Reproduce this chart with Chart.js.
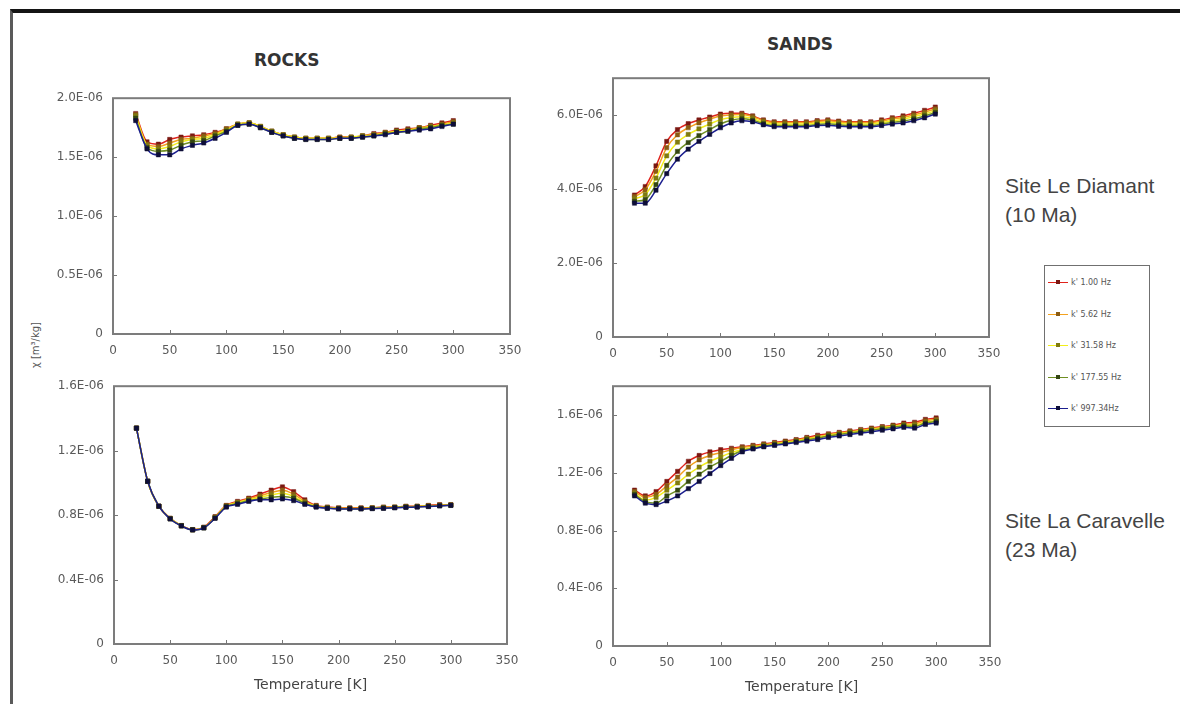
<!DOCTYPE html>
<html>
<head>
<meta charset="utf-8">
<script src="https://cdn.jsdelivr.net/npm/chart.js@4.4.1/dist/chart.umd.min.js"></script>
<style>
    body { margin: 0; background: #fff; width: 1180px; height: 704px; overflow: hidden; position: relative; font-family: "Liberation Sans", Arial, sans-serif; }
    #frame { position: absolute; left: 10px; top: 9px; right: 0; bottom: 0; border-top: 4px solid #141414; border-left: 3px solid #5a5a5a; }
    canvas { position: absolute; }
    .title { position: absolute; font-family: "DejaVu Sans", sans-serif; font-weight: bold; font-size: 17px; color: #333; }
    .site { position: absolute; font-size: 21px; line-height: 29px; color: #444; }
    #ytitle { position: absolute; left: 35px; top: 345px; transform: translate(-50%, -50%) rotate(-90deg); font-family: "DejaVu Sans", sans-serif; font-size: 10px; color: #555; white-space: nowrap; }
    #legend { position: absolute; left: 1044px; top: 265px; width: 104px; height: 160px; border: 1.5px solid #707070; }
    .row { position: absolute; left: 3px; height: 10px; font-family: "DejaVu Sans", sans-serif; font-size: 8px; color: #555; white-space: nowrap; }
    .row .ln { position: absolute; left: 0; top: 4px; width: 20px; height: 1px; }
    .row .pt { position: absolute; left: 8px; top: 2px; width: 4px; height: 4px; }
    .row .tx { position: absolute; left: 23px; top: 0; }
</style>
</head>
<body>
<div id="frame"></div>

<div class="title" style="left:254px; top:50px;">ROCKS</div>
<div class="title" style="left:767px; top:34px;">SANDS</div>
<div id="ytitle">χ [m³/kg]</div>

<div class="site" style="left:1005px; top:171px;">Site Le Diamant<br>(10 Ma)</div>
<div class="site" style="left:1005px; top:506px;">Site La Caravelle<br>(23 Ma)</div>

<div id="legend"></div>

<canvas id="rocksDiamant"></canvas>
<canvas id="sandsDiamant"></canvas>
<canvas id="rocksCaravelle"></canvas>
<canvas id="sandsCaravelle"></canvas>

<script>
// temperature steps, K
const temps = [20, 30, 40, 50, 60, 70, 80, 90, 100, 110, 120, 130, 140, 150, 160, 170, 180, 190, 200, 210, 220, 230, 240, 250, 260, 270, 280, 290, 300];

const freqLabels = ["k' 1.00 Hz", "k' 5.62 Hz", "k' 31.58 Hz", "k' 177.55 Hz", "k' 997.34Hz"];
const seriesColors = ["#e0231c", "#f3a21f", "#f2ee1a", "#6f8f22", "#1c1f8f"];
const pointColors = ["#7a1812", "#8a5c14", "#7f7a10", "#344612", "#0e0e38"];

// susceptibility values in 1E-06 m3/kg, one row per frequency (1.00 Hz ... 997.34 Hz)
const rocksDiamant = [
    [1.87, 1.63, 1.61, 1.65, 1.67, 1.68, 1.69, 1.71, 1.74, 1.78, 1.79, 1.76, 1.72, 1.69, 1.67, 1.66, 1.66, 1.66, 1.67, 1.67, 1.68, 1.70, 1.71, 1.73, 1.74, 1.75, 1.77, 1.79, 1.81],
    [1.86, 1.61, 1.59, 1.62, 1.65, 1.66, 1.68, 1.70, 1.74, 1.78, 1.79, 1.76, 1.72, 1.69, 1.67, 1.66, 1.66, 1.66, 1.67, 1.67, 1.68, 1.69, 1.71, 1.72, 1.73, 1.75, 1.76, 1.78, 1.80],
    [1.85, 1.60, 1.57, 1.59, 1.63, 1.65, 1.66, 1.69, 1.73, 1.78, 1.79, 1.76, 1.72, 1.69, 1.67, 1.66, 1.66, 1.66, 1.66, 1.67, 1.68, 1.69, 1.70, 1.72, 1.73, 1.74, 1.76, 1.77, 1.79],
    [1.83, 1.58, 1.55, 1.56, 1.60, 1.63, 1.64, 1.68, 1.72, 1.77, 1.78, 1.75, 1.71, 1.68, 1.66, 1.65, 1.65, 1.65, 1.66, 1.66, 1.67, 1.68, 1.70, 1.71, 1.72, 1.74, 1.75, 1.77, 1.78],
    [1.81, 1.57, 1.52, 1.52, 1.57, 1.60, 1.62, 1.66, 1.71, 1.77, 1.78, 1.75, 1.71, 1.68, 1.66, 1.65, 1.65, 1.65, 1.66, 1.66, 1.67, 1.68, 1.69, 1.71, 1.72, 1.73, 1.74, 1.76, 1.78]
];

const rocksCaravelle = [
    [1.34, 1.01, 0.855, 0.78, 0.735, 0.71, 0.725, 0.79, 0.86, 0.885, 0.905, 0.93, 0.955, 0.975, 0.945, 0.895, 0.86, 0.85, 0.845, 0.845, 0.845, 0.845, 0.85, 0.85, 0.855, 0.855, 0.86, 0.865, 0.865],
    [1.34, 1.01, 0.855, 0.78, 0.735, 0.71, 0.723, 0.787, 0.858, 0.88, 0.90, 0.92, 0.94, 0.955, 0.93, 0.885, 0.857, 0.848, 0.843, 0.843, 0.843, 0.845, 0.848, 0.85, 0.853, 0.855, 0.858, 0.862, 0.863],
    [1.34, 1.01, 0.855, 0.778, 0.734, 0.709, 0.722, 0.785, 0.855, 0.877, 0.895, 0.91, 0.925, 0.935, 0.915, 0.878, 0.854, 0.846, 0.841, 0.841, 0.841, 0.843, 0.846, 0.848, 0.851, 0.853, 0.856, 0.86, 0.862],
    [1.34, 1.01, 0.855, 0.777, 0.733, 0.708, 0.721, 0.782, 0.853, 0.872, 0.89, 0.90, 0.91, 0.915, 0.905, 0.872, 0.852, 0.844, 0.84, 0.84, 0.84, 0.842, 0.844, 0.847, 0.85, 0.852, 0.855, 0.858, 0.861],
    [1.34, 1.01, 0.855, 0.776, 0.733, 0.708, 0.72, 0.78, 0.85, 0.867, 0.885, 0.895, 0.895, 0.90, 0.89, 0.867, 0.85, 0.842, 0.838, 0.838, 0.838, 0.84, 0.842, 0.845, 0.848, 0.85, 0.853, 0.857, 0.86]
];

const sandsDiamant = [
    [3.84, 4.07, 4.63, 5.29, 5.61, 5.77, 5.87, 5.95, 6.03, 6.05, 6.05, 5.98, 5.87, 5.82, 5.82, 5.82, 5.82, 5.85, 5.87, 5.84, 5.82, 5.82, 5.82, 5.87, 5.93, 5.98, 6.05, 6.13, 6.22],
    [3.80, 3.98, 4.48, 5.12, 5.47, 5.66, 5.79, 5.89, 5.98, 6.01, 6.02, 5.96, 5.85, 5.80, 5.80, 5.80, 5.80, 5.83, 5.85, 5.82, 5.80, 5.80, 5.80, 5.84, 5.90, 5.94, 6.01, 6.08, 6.17],
    [3.74, 3.85, 4.30, 4.90, 5.27, 5.48, 5.63, 5.76, 5.88, 5.94, 5.96, 5.91, 5.81, 5.76, 5.76, 5.76, 5.76, 5.79, 5.81, 5.78, 5.76, 5.76, 5.76, 5.80, 5.85, 5.89, 5.96, 6.03, 6.12],
    [3.67, 3.72, 4.12, 4.64, 5.02, 5.26, 5.45, 5.61, 5.76, 5.86, 5.90, 5.86, 5.77, 5.72, 5.72, 5.72, 5.72, 5.75, 5.77, 5.74, 5.72, 5.72, 5.72, 5.76, 5.80, 5.84, 5.90, 5.98, 6.07],
    [3.62, 3.62, 3.97, 4.42, 4.81, 5.08, 5.29, 5.48, 5.66, 5.79, 5.85, 5.82, 5.74, 5.69, 5.69, 5.69, 5.69, 5.72, 5.73, 5.70, 5.69, 5.69, 5.69, 5.72, 5.76, 5.79, 5.85, 5.93, 6.03]
];

const sandsCaravelle = [
    [1.08, 1.04, 1.07, 1.14, 1.21, 1.28, 1.32, 1.345, 1.36, 1.37, 1.38, 1.39, 1.40, 1.41, 1.42, 1.43, 1.445, 1.46, 1.47, 1.48, 1.49, 1.50, 1.51, 1.52, 1.53, 1.545, 1.55, 1.57, 1.58],
    [1.07, 1.03, 1.05, 1.11, 1.17, 1.24, 1.29, 1.32, 1.34, 1.36, 1.375, 1.385, 1.395, 1.405, 1.415, 1.425, 1.44, 1.45, 1.465, 1.475, 1.485, 1.495, 1.505, 1.515, 1.525, 1.535, 1.54, 1.56, 1.57],
    [1.06, 1.01, 1.03, 1.08, 1.13, 1.19, 1.24, 1.28, 1.31, 1.34, 1.36, 1.375, 1.39, 1.40, 1.41, 1.42, 1.435, 1.445, 1.46, 1.47, 1.48, 1.49, 1.50, 1.51, 1.52, 1.53, 1.53, 1.55, 1.56],
    [1.05, 1.00, 0.99, 1.04, 1.08, 1.14, 1.19, 1.24, 1.28, 1.32, 1.355, 1.37, 1.385, 1.395, 1.405, 1.415, 1.43, 1.44, 1.455, 1.465, 1.475, 1.485, 1.495, 1.505, 1.515, 1.525, 1.52, 1.545, 1.555],
    [1.04, 0.99, 0.98, 1.005, 1.04, 1.09, 1.14, 1.195, 1.25, 1.30, 1.345, 1.365, 1.38, 1.39, 1.40, 1.41, 1.42, 1.43, 1.445, 1.455, 1.465, 1.475, 1.485, 1.495, 1.505, 1.515, 1.51, 1.535, 1.545]
];

// y ticks (1E-06 units) and their printed labels
const rocksDiamantTicks = [0, 0.5, 1.0, 1.5, 2.0];
const rocksDiamantLabels = ["0", "0.5E-06", "1.0E-06", "1.5E-06", "2.0E-06"];
const rocksCaravelleTicks = [0, 0.4, 0.8, 1.2, 1.6];
const rocksCaravelleLabels = ["0", "0.4E-06", "0.8E-06", "1.2E-06", "1.6E-06"];
const sandsDiamantTicks = [0, 2, 4, 6];
const sandsDiamantLabels = ["0", "2.0E-06", "4.0E-06", "6.0E-06"];
const sandsCaravelleTicks = [0, 0.4, 0.8, 1.2, 1.6];
const sandsCaravelleLabels = ["0", "0.4E-06", "0.8E-06", "1.2E-06", "1.6E-06"];

const xTicks = [0, 50, 100, 150, 200, 250, 300, 350];

// plot box outline plus short inward tick marks
const boxPlugin = {
    id: 'boxPlugin',
    beforeDatasetsDraw(chart) {
        const ctx = chart.ctx;
        const a = chart.chartArea;
        const xs = chart.scales.x;
        const ys = chart.scales.y;
        ctx.save();
        ctx.strokeStyle = "#7c7c7c";
        ctx.lineWidth = 2;
        ctx.strokeRect(a.left, a.top, a.right - a.left, a.bottom - a.top);
        ctx.strokeStyle = "#777";
        ctx.lineWidth = 1;
        ctx.beginPath();
        xs.ticks.forEach(t => {
            let px = Math.round(xs.getPixelForValue(t.value)) + 0.5;
            if (px < a.left + 3 || px > a.right - 3) return;
            ctx.moveTo(px, a.bottom);
            ctx.lineTo(px, a.bottom - 4);
        });
        ys.ticks.forEach(t => {
            let py = Math.round(ys.getPixelForValue(t.value)) + 0.5;
            if (py < a.top + 3 || py > a.bottom - 3) return;
            ctx.moveTo(a.left, py);
            ctx.lineTo(a.left + 4, py);
        });
        ctx.stroke();
        ctx.restore();
    }
};

const tickFont = { family: "DejaVu Sans", size: 12 };

function makePanel(id, box, rows, yMax, yTicks, yLabels, withTitle) {
    const yw = 80, pt = 12, pr = 24;
    const xh = withTitle ? 54 : 30;
    const canvas = document.getElementById(id);
    const w = box.right - box.left + yw + pr;
    const h = box.bottom - box.top + pt + xh;
    canvas.width = w;
    canvas.height = h;
    canvas.style.left = (box.left - yw) + "px";
    canvas.style.top = (box.top - pt) + "px";

    let datasets = [];
    for (let i = 0; i < rows.length; i++) {
        datasets.push({
            label: freqLabels[i],
            data: temps.map((t, j) => ({ x: t, y: rows[i][j] })),
            borderColor: seriesColors[i],
            backgroundColor: seriesColors[i],
            borderWidth: 1.5,
            pointStyle: 'rect',
            pointRadius: 3,
            pointBackgroundColor: pointColors[i],
            pointBorderColor: pointColors[i],
            pointBorderWidth: 0.5,
            cubicInterpolationMode: 'monotone',
            order: rows.length - i
        });
    }

    return new Chart(canvas.getContext('2d'), {
        type: 'line',
        data: { datasets: datasets },
        plugins: [boxPlugin],
        options: {
            responsive: false,
            animation: false,
            layout: { padding: { top: pt, right: pr, left: 0, bottom: 0 } },
            scales: {
                x: {
                    type: 'linear',
                    min: 0,
                    max: 350,
                    afterBuildTicks: s => { s.ticks = xTicks.map(v => ({ value: v })); },
                    afterFit: s => { s.height = xh; },
                    grid: { display: false, drawTicks: false },
                    border: { display: false },
                    ticks: { color: "#5a5a5a", font: tickFont, padding: 10, maxRotation: 0 },
                    title: {
                        display: withTitle,
                        text: "Temperature [K]",
                        color: "#444",
                        font: { family: "DejaVu Sans", size: 14 },
                        padding: { top: 2, bottom: 4 }
                    }
                },
                y: {
                    min: 0,
                    max: yMax,
                    afterBuildTicks: s => { s.ticks = yTicks.map(v => ({ value: v })); },
                    afterFit: s => { s.width = yw; },
                    grid: { display: false, drawTicks: false },
                    border: { display: false },
                    ticks: {
                        color: "#5a5a5a",
                        font: tickFont,
                        padding: 10,
                        callback: (v, i) => yLabels[i]
                    }
                }
            },
            plugins: {
                legend: { display: false },
                tooltip: { enabled: false }
            }
        }
    });
}

makePanel("rocksDiamant", { left: 113, top: 93, right: 510, bottom: 334 }, rocksDiamant, 2.0, rocksDiamantTicks, rocksDiamantLabels, false);
makePanel("sandsDiamant", { left: 613, top: 73, right: 989, bottom: 337 }, sandsDiamant, 7.0, sandsDiamantTicks, sandsDiamantLabels, false);
makePanel("rocksCaravelle", { left: 114, top: 381, right: 507, bottom: 644 }, rocksCaravelle, 1.6, rocksCaravelleTicks, rocksCaravelleLabels, true);
makePanel("sandsCaravelle", { left: 613, top: 381, right: 990, bottom: 646 }, sandsCaravelle, 1.8, sandsCaravelleTicks, sandsCaravelleLabels, true);

// frequency legend
const legend = document.getElementById("legend");
for (let i = 0; i < freqLabels.length; i++) {
    let row = document.createElement("div");
    row.className = "row";
    row.style.top = (12 + i * 31.5) + "px";
    row.innerHTML = '<span class="ln" style="background:' + seriesColors[i] + '"></span>' +
        '<span class="pt" style="background:' + pointColors[i] + '"></span>' +
        '<span class="tx">' + freqLabels[i] + '</span>';
    legend.appendChild(row);
}
</script>
</body>
</html>
